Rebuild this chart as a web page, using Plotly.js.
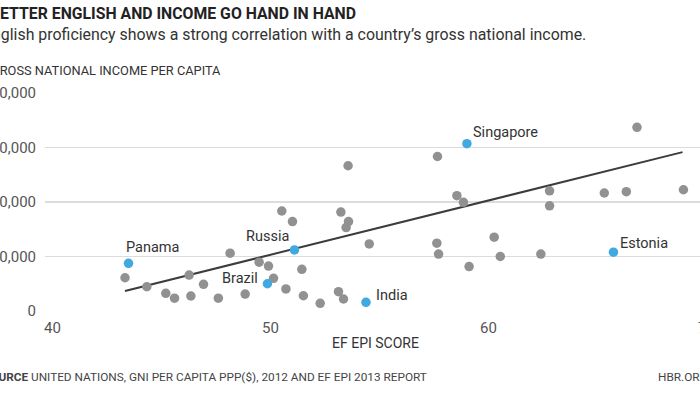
<!DOCTYPE html>
<html>
<head>
<meta charset="utf-8">
<script src="https://cdn.plot.ly/plotly-3.0.1.min.js"></script>
<style>
html,body{margin:0;padding:0;overflow:hidden;background:#fff;width:700px;height:394px;}
#chart{position:absolute;left:-20px;top:0;width:760px;height:394px;}
</style>
</head>
<body>
<div id="chart"></div>
<script>
// ---- data ----
const grayScore = [43.33,44.33,45.20,45.60,46.27,46.35,46.93,47.61,48.15,48.84,49.48,49.91,50.14,50.52,50.71,51.01,51.44,51.51,52.28,53.12,53.35,53.23,53.47,53.58,53.56,54.53,57.66,57.63,57.71,58.55,58.85,59.11,60.26,60.54,62.40,62.80,62.80,65.31,66.32,66.81,68.94];
const grayGNI   = [12200,8900,6500,4700,13200,5500,9800,4700,21200,6200,17900,16500,12000,36700,8100,32800,15300,5600,2800,7100,4400,36300,30600,32800,53300,24600,56700,24900,20900,42300,39900,16300,27100,20000,20900,44100,38600,43300,43800,67400,44500];
const highlightNames = ["Panama","Brazil","Russia","India","Singapore","Estonia"];
const highlightScore = [43.49,49.86,51.10,54.38,59.01,65.73];
const highlightGNI   = [17500,10000,22400,3200,61400,21600];
const trendScore = [43.33,68.90];
const trendGNI   = [7350,58300];
const xTicks = [40,50,60,70];
const yTicks = [0,20000,40000,60000,80000];
const yTickText = ["0","20,000","40,000","60,000","80,000"];

const FONT = "Roboto, 'Noto Sans', sans-serif";
// label placement (offsets in px)
const labelPos = {
  Panama:{xa:'left',dx:-5,dy:16},
  Brazil:{xa:'right',dx:-7,dy:5},
  Russia:{xa:'right',dx:-3,dy:13},
  India:{xa:'left',dx:8,dy:7},
  Singapore:{xa:'left',dx:4,dy:11},
  Estonia:{xa:'left',dx:5,dy:9}
};

const traces = [
  {x:trendScore,y:trendGNI,mode:'lines',line:{color:'#3c3c3c',width:2},hoverinfo:'skip',cliponaxis:false},
  {x:grayScore,y:grayGNI,mode:'markers',marker:{size:9.5,color:'#919191'},cliponaxis:false},
  {x:highlightScore,y:highlightGNI,mode:'markers',marker:{size:9.5,color:'#3fa9e0'},cliponaxis:false}
];

const ann = [];
highlightNames.forEach((n,i)=>{
  const p = labelPos[n];
  ann.push({x:highlightScore[i],y:highlightGNI[i],xref:'x',yref:'y',text:n,showarrow:false,
    xanchor:p.xa,yanchor:'middle',xshift:p.dx,yshift:p.dy,font:{family:FONT,size:14.5,color:'#333'}});
});
// page px helpers: plot left = page 45, plot top = page 93
function txt(text,pageX,pageY,size,color,xa){
  return {xref:'paper',yref:'paper',x:0,y:1,xshift:pageX-45,yshift:93-pageY,
    xanchor:xa||'left',yanchor:'middle',showarrow:false,text:text,font:{family:FONT,size:size,color:color}};
}
ann.push(txt('<b>BETTER ENGLISH AND INCOME GO HAND IN HAND</b>',-12,13,15.8,'#222'));
ann.push(txt('English proficiency shows a strong correlation with a country\u2019s gross national income.',-19,34,15.9,'#333'));
ann.push(txt('GROSS NATIONAL INCOME PER CAPITA',-11,70,12.8,'#333'));
ann.push(txt('EF EPI SCORE',375,343,14,'#333','center'));
ann.push(txt('<b>SOURCE</b> UNITED NATIONS, GNI PER CAPITA PPP($), 2012 AND EF EPI 2013 REPORT',-19,377,11.8,'#444'));
ann.push(txt('HBR.ORG',656,377,11.8,'#444'));

const layout = {
  width:760,height:394,
  margin:{l:65,r:16,t:93,b:83,pad:0},
  paper_bgcolor:'#fff',plot_bgcolor:'#fff',
  showlegend:false,
  font:{family:FONT},
  xaxis:{range:[39.66,70.8],tickvals:xTicks,showgrid:false,zeroline:false,showline:false,ticks:'',
    tickfont:{family:FONT,size:15,color:'#555'},ticklabelstandoff:6},
  yaxis:{range:[0,80000],tickvals:yTicks,ticktext:yTickText,showgrid:true,gridcolor:'#dcdcdc',gridwidth:1.5,
    zeroline:false,showline:false,ticks:'',tickfont:{family:FONT,size:15,color:'#555'},ticklabelstandoff:8},
  annotations:ann
};
Plotly.newPlot('chart',traces,layout,{staticPlot:true,displayModeBar:false});
</script>
</body>
</html>
